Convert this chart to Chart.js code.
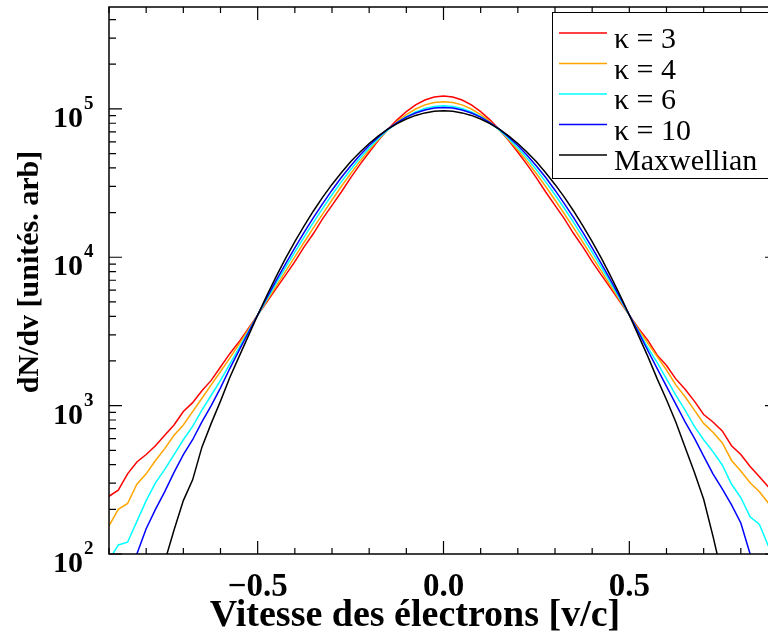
<!DOCTYPE html>
<html>
<head>
<meta charset="utf-8">
<script src="https://cdn.jsdelivr.net/npm/chart.js@4.4.0/dist/chart.umd.min.js"></script>
<style>
  html, body { margin: 0; padding: 0; background: #fff; overflow: hidden; }
  #wrap { width: 768px; height: 633px; overflow: hidden; position: relative; }
  #chart { position: absolute; left: 0; top: 0; }
</style>
</head>
<body>
<div id="wrap"><canvas id="chart" width="790" height="633"></canvas></div>
<script>
// ---- data (v/c  ->  dN/dv) ----
const velocity = [
  -0.900,-0.875,-0.850,-0.825,-0.800,-0.775,-0.750,-0.725,-0.700,-0.675,-0.650,-0.625,
  -0.600,-0.575,-0.550,-0.525,-0.500,-0.475,-0.450,-0.425,-0.400,-0.375,-0.350,-0.325,
  -0.300,-0.275,-0.250,-0.225,-0.200,-0.175,-0.150,-0.125,-0.100,-0.075,-0.050,-0.025,
   0.000, 0.025, 0.050, 0.075, 0.100, 0.125, 0.150, 0.175, 0.200, 0.225, 0.250, 0.275,
   0.300, 0.325, 0.350, 0.375, 0.400, 0.425, 0.450, 0.475, 0.500, 0.525, 0.550, 0.575,
   0.600, 0.625, 0.650, 0.675, 0.700, 0.725, 0.750, 0.775, 0.800, 0.825, 0.850, 0.875
];

const kappa3 = [
  245,269,347,417,468,537,631,741,912,1047,1259,1479,
  1820,2239,2692,3311,4074,5012,6166,7586,9333,11750,14450,18200,
  22390,27540,34280,42070,51050,61380,72610,84330,95720,106400,114800,120200,
  122200,120200,114800,106400,95720,84330,72610,61380,51050,42070,34280,27540,
  22390,18200,14450,11750,9333,7586,6166,5012,4074,3311,2754,2188,
  1862,1514,1288,1072,871,776,676,537,468,389,331,282
];
const kappa4 = [
  155,200,219,295,347,427,513,631,741,912,1122,1380,
  1698,2089,2600,3251,4074,5105,6397,8035,10070,12620,15780,19630,
  24320,29990,36560,44260,52840,62230,72110,82040,91620,99770,106400,110400,
  111900,110400,106400,99770,91620,82040,72110,62230,52840,44260,36560,29990,
  24320,19630,15780,12620,10070,8035,6397,5105,4074,3251,2630,2138,
  1738,1380,1148,933,759,661,562,427,363,302,263,219
];
const kappa6 = [
  91,115,120,166,229,302,372,468,589,724,933,1175,
  1479,1905,2455,3162,4064,5224,6683,8531,10840,13680,17180,21380,
  26360,32210,38900,46450,54580,63240,72110,80540,88510,95280,100500,103800,
  105000,103800,100500,95280,88510,80540,72110,63240,54580,46450,38900,32210,
  26360,21380,17180,13680,10840,8531,6683,5224,4064,3162,2455,1950,
  1514,1175,933,724,589,490,398,295,240,178,158,112
];
const kappa10 = [
  45,63,79,100,148,200,263,355,468,589,776,1000,
  1318,1778,2355,3112,4093,5358,6982,9016,11560,14690,18490,23010,
  28310,34440,41210,48640,56620,64710,72950,80720,87900,93760,98400,101200,
  102100,101200,98400,93760,87900,80720,72950,64710,56620,48640,41210,34440,
  28310,23010,18490,14690,11560,9016,6982,5358,4093,3112,2344,1778,
  1349,1023,776,603,457,347,275,214,162,100,71,52
];
const maxwellian = [
  4,7,13,20,32,52,89,145,229,316,525,759,
  1072,1549,2138,2951,4074,5546,7430,9817,12740,16290,20510,25410,
  30970,37150,43950,51050,58480,65770,72950,79620,85510,90360,93970,96380,
  97050,96380,93970,90360,85510,79620,72950,65770,58480,51050,43950,37150,
  30970,25410,20510,16290,12740,9817,7430,5546,4074,2951,2138,1514,
  1096,776,525,355,234,132,71,45,28,18,10,6
];

const seriesLabels = ['κ = 3', 'κ = 4', 'κ = 6', 'κ = 10', 'Maxwellian'];
const seriesColors = ['#ff0000', '#ffa500', '#00ffff', '#0000ff', '#000000'];
const seriesValues = [kappa3, kappa4, kappa6, kappa10, maxwellian];

const xTickValues = [-0.5, 0, 0.5];
const xTickLabels = ['\u22120.5', '0.0', '0.5'];
const yTickValues = [100, 1000, 10000, 100000];
const yTickExponents = ['2', '3', '4', '5'];

const X_MIN = -0.9, X_MAX = 0.9;
const Y_MIN = 100, Y_MAX = 486000;

const SERIF = '"Liberation Serif", "Times New Roman", serif';

// ---- axes, ticks, labels and legend drawn on top of the library scales ----
const idlFrame = {
  id: 'idlFrame',
  afterDraw(chart) {
    const { ctx, chartArea: a, scales: { x, y } } = chart;
    ctx.save();
    ctx.strokeStyle = '#000';
    ctx.fillStyle = '#000';
    ctx.lineWidth = 1.5;
    ctx.strokeRect(a.left, a.top, a.right - a.left, a.bottom - a.top);

    ctx.lineWidth = 1.2;
    ctx.beginPath();
    // x ticks every 0.1, majors every 0.5
    for (let k = -9; k <= 9; k++) {
      const v = k / 10;
      const px = x.getPixelForValue(v);
      const len = (k % 5 === 0) ? 13 : 6;
      ctx.moveTo(px, a.bottom); ctx.lineTo(px, a.bottom - len);
      ctx.moveTo(px, a.top); ctx.lineTo(px, a.top + len);
    }
    // y ticks (log decades + minors)
    for (let e = 2; e <= 5; e++) {
      for (let m = 1; m <= 9; m++) {
        const val = m * Math.pow(10, e);
        if (val < Y_MIN || val > Y_MAX) continue;
        const py = y.getPixelForValue(val);
        const len = (m === 1) ? 13 : 7;
        ctx.moveTo(a.left, py); ctx.lineTo(a.left + len, py);
        ctx.moveTo(a.right, py); ctx.lineTo(a.right - len, py);
      }
    }
    ctx.stroke();

    // x tick labels
    ctx.font = 'bold 33px ' + SERIF;
    ctx.textAlign = 'center';
    ctx.textBaseline = 'alphabetic';
    xTickValues.forEach((v, i) => {
      ctx.fillText(xTickLabels[i], x.getPixelForValue(v), a.bottom + 42);
    });

    // y tick labels 10^n
    yTickValues.forEach((v, i) => {
      const py = y.getPixelForValue(v);
      ctx.font = 'bold 30px ' + SERIF;
      ctx.textAlign = 'right';
      ctx.fillText('10', a.left - 26, py + 18);
      ctx.font = 'bold 19px ' + SERIF;
      ctx.textAlign = 'left';
      ctx.fillText(yTickExponents[i], a.left - 25, py);
    });

    // axis titles
    ctx.font = 'bold 38px ' + SERIF;
    ctx.textAlign = 'center';
    ctx.fillText('Vitesse des électrons [v/c]', 415, a.bottom + 72);
    ctx.font = 'bold 30px ' + SERIF;
    ctx.save();
    ctx.translate(38, 272);
    ctx.rotate(-Math.PI / 2);
    ctx.fillText('dN/dv [unités. arb]', 0, 0);
    ctx.restore();

    // legend box
    const lx = a.right - 226, ly = a.top + 5;
    ctx.fillStyle = '#fff';
    ctx.fillRect(lx, ly, 222, 166);
    ctx.lineWidth = 1;
    ctx.strokeStyle = '#000';
    ctx.strokeRect(lx + 0.5, ly + 0.5, 222, 166);
    ctx.font = '30px ' + SERIF;
    ctx.textAlign = 'left';
    seriesLabels.forEach((lab, i) => {
      const ry = ly + 21 + i * 30.5;
      ctx.strokeStyle = seriesColors[i];
      ctx.lineWidth = 1.6;
      ctx.beginPath();
      ctx.moveTo(lx + 7, ry); ctx.lineTo(lx + 55, ry);
      ctx.stroke();
      ctx.fillStyle = '#000';
      ctx.fillText(lab, lx + 62, ry + 15);
    });
    ctx.restore();
  }
};

const datasets = seriesValues.map((vals, i) => ({
  label: seriesLabels[i],
  data: velocity.map((v, j) => ({ x: v, y: vals[j] })),
  borderColor: seriesColors[i],
  borderWidth: 1.5,
  pointRadius: 0,
  tension: 0,
  fill: false,
  order: seriesValues.length - 1 - i
}));

new Chart(document.getElementById('chart'), {
  type: 'line',
  data: { datasets },
  options: {
    responsive: false,
    animation: false,
    layout: { padding: { left: 109, right: 12, top: 7, bottom: 79 } },
    scales: {
      x: { type: 'linear', min: X_MIN, max: X_MAX, display: false },
      y: { type: 'logarithmic', min: Y_MIN, max: Y_MAX, display: false }
    },
    plugins: { legend: { display: false }, tooltip: { enabled: false } }
  },
  plugins: [idlFrame]
});
</script>
</body>
</html>
